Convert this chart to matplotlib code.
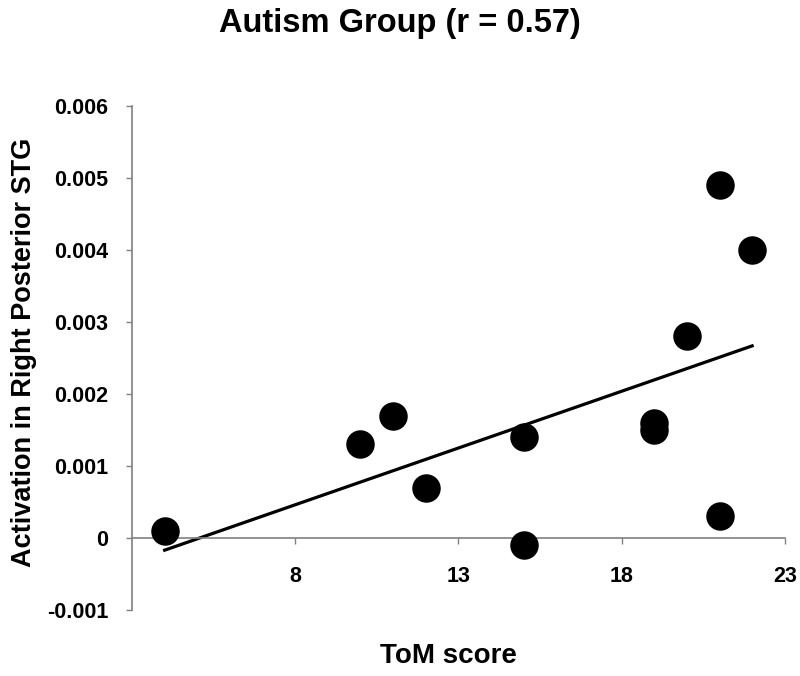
import numpy as np
import matplotlib.pyplot as plt

plt.rcParams['font.family'] = ['Liberation Sans', 'DejaVu Sans']

# ToM score vs activation (autism group)
tom_score = [4, 10, 11, 12, 15, 15, 19, 19, 20, 21, 21, 22]
activation = [0.0001, 0.0013, 0.0017, 0.0007, 0.0014, -0.0001,
              0.0016, 0.0015, 0.0028, 0.0003, 0.0049, 0.0040]
x_ticks = [8, 13, 18, 23]
y_ticks = [-0.001, 0, 0.001, 0.002, 0.003, 0.004, 0.005, 0.006]
y_labels = ["-0.001", "0", "0.001", "0.002", "0.003", "0.004", "0.005", "0.006"]

fig = plt.figure(figsize=(8, 6.76), dpi=100)
ax = fig.add_axes([0.165, 0.0976, 0.816, 0.7456])

x = np.array(tom_score)
y = np.array(activation)
slope, icpt = np.polyfit(x, y, 1)
xl = np.array([x.min(), x.max()])
ax.plot(xl, slope * xl + icpt, color="black", lw=2.3, zorder=2)
ax.plot(x, y, "o", color="black", markersize=19.5, zorder=3)

ax.set_xlim(3, 23)
ax.set_ylim(-0.001, 0.006)
ax.set_xticks(x_ticks)
ax.set_xticklabels([str(t) for t in x_ticks])
ax.set_yticks(y_ticks)
ax.set_yticklabels(y_labels)

for s in ("top", "right"):
    ax.spines[s].set_visible(False)
ax.spines["bottom"].set_position(("data", 0))
for s in ("bottom", "left"):
    ax.spines[s].set_color("#808080")
    ax.spines[s].set_linewidth(1.2)

ax.tick_params(axis="x", direction="out", length=4, width=1, color="#808080",
               pad=16, labelsize=15.5)
ax.tick_params(axis="y", direction="out", length=4, width=1, color="#808080",
               pad=13, labelsize=15.5)
for lab in ax.get_xticklabels() + ax.get_yticklabels():
    lab.set_fontweight("bold")

ax.set_xlabel("ToM score", fontsize=20, fontweight="bold", labelpad=42)
ax.xaxis.set_label_coords(0.484, -0.066)
ax.set_ylabel("Activation in Right Posterior STG", fontsize=19.5,
              fontweight="bold", labelpad=10)
ax.yaxis.set_label_coords(-0.145, 0.512)
fig.text(0.5, 0.965, "Autism Group (r = 0.57)", ha="center", va="center",
         fontsize=23.5, fontweight="bold")

fig.savefig("out.png", dpi=100)
